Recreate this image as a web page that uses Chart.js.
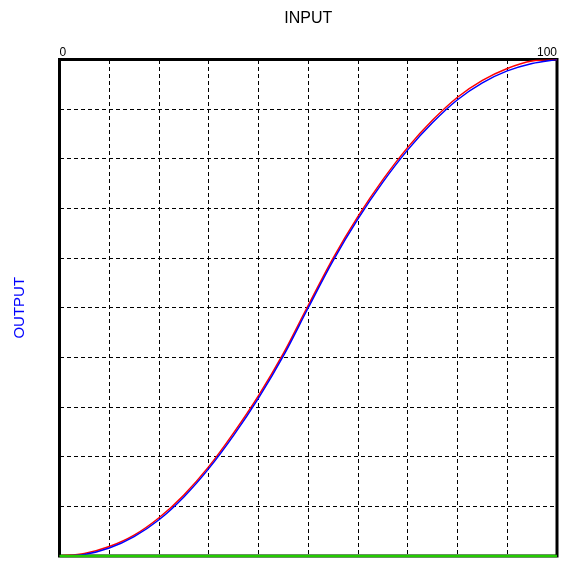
<!DOCTYPE html>
<html>
<head>
<meta charset="utf-8">
<script src="https://cdn.jsdelivr.net/npm/chart.js@4"></script>
<style>
  html, body { margin: 0; padding: 0; background: #fff; }
  #wrap { width: 577px; height: 569px; }
</style>
</head>
<body>
<div id="wrap"><canvas id="curveChart"></canvas></div>
<script>
// input positions (%) and the two response curves
const inputs = [0, 5, 10, 15, 20, 25, 30, 35, 40, 45, 50, 55, 60, 65, 70, 75, 80, 85, 90, 95, 100];
const blueOutput = [0, 0.3, 1.6, 3.9, 7.3, 11.9, 17.6, 24.3, 31.8, 40.3, 50.0, 59.5, 67.9, 75.3, 81.8, 87.3, 91.9, 95.3, 97.7, 99.2, 100];
const redOutput = [0, 0.5, 1.9, 4.2, 7.7, 12.3, 18.0, 24.8, 32.3, 40.8, 50.5, 60.0, 68.4, 75.8, 82.3, 87.8, 92.4, 95.8, 98.2, 99.7, 100];
const baseInputs = [0, 100];
const baseOutput = [0, 0];
const tickLabels = { 0: '0', 100: '100' };

const toPoints = (xs, ys) => xs.map((x, i) => ({ x: x, y: ys[i] }));

// thick black frame round the plot, under the curves
const framePlugin = {
  id: 'frame',
  beforeDatasetsDraw(chart) {
    const { ctx, chartArea: a } = chart;
    ctx.save();
    ctx.strokeStyle = '#000';
    ctx.lineWidth = 3;
    ctx.strokeRect(a.left, a.top, a.right - a.left, a.bottom - a.top);
    ctx.restore();
  }
};

document.addEventListener('DOMContentLoaded', () => {
  const ctx = document.getElementById('curveChart').getContext('2d');
  new Chart(ctx, {
    type: 'line',
    data: {
      datasets: [
        {
          data: toPoints(inputs, blueOutput),
          borderColor: '#0000ff',
          borderWidth: 1.5,
          pointRadius: 0,
          cubicInterpolationMode: 'monotone',
          order: 1
        },
        {
          data: toPoints(inputs, redOutput),
          borderColor: '#ff0000',
          borderWidth: 1.5,
          pointRadius: 0,
          cubicInterpolationMode: 'monotone',
          order: 2
        },
        {
          data: toPoints(baseInputs, baseOutput),
          borderColor: '#22cc00',
          borderWidth: 2.5,
          pointRadius: 0,
          clip: false,
          order: 0
        }
      ]
    },
    options: {
      responsive: true,
      maintainAspectRatio: false,
      animation: false,
      layout: { padding: { top: 0, left: 0, right: 20, bottom: 13 } },
      plugins: { legend: { display: false }, tooltip: { enabled: false } },
      scales: {
        x: {
          type: 'linear',
          position: 'top',
          min: 0,
          max: 100,
          afterFit: (scale) => { scale.height = 59.5; },
          grid: { color: '#000', lineWidth: 1, drawTicks: false },
          border: { display: false, dash: [4, 3] },
          ticks: {
            stepSize: 10,
            autoSkip: false,
            maxRotation: 0,
            align: 'inner',
            padding: 0,
            color: '#000',
            font: { family: 'Liberation Sans, Arial, sans-serif', size: 12 },
            callback: (v) => tickLabels[v] || ''
          },
          title: {
            display: true,
            text: 'INPUT',
            color: '#000',
            padding: { top: 9, bottom: 0 },
            font: { family: 'Liberation Sans, Arial, sans-serif', size: 16 }
          }
        },
        y: {
          type: 'linear',
          min: 0,
          max: 100,
          afterFit: (scale) => { scale.width = 59.5; },
          grid: { color: '#000', lineWidth: 1, drawTicks: false },
          border: { display: false, dash: [4, 3] },
          ticks: { stepSize: 10, display: false },
          title: {
            display: true,
            text: 'OUTPUT',
            color: '#0000ff',
            padding: { top: 11, bottom: 0 },
            font: { family: 'Liberation Sans, Arial, sans-serif', size: 15 }
          }
        }
      }
    },
    plugins: [framePlugin]
  });
});
</script>
</body>
</html>
